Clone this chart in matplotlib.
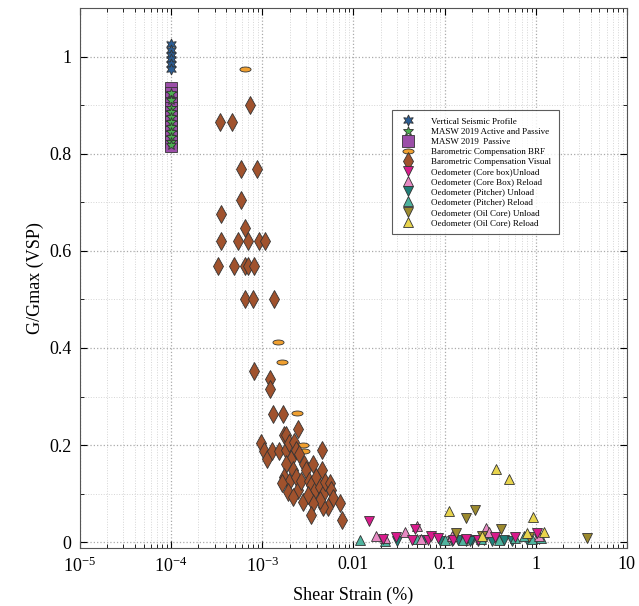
import numpy as np
import matplotlib
matplotlib.use("Agg")
import matplotlib.pyplot as plt
from matplotlib.path import Path
from matplotlib.ticker import LogLocator, FixedLocator, FixedFormatter, MultipleLocator

plt.rcParams['font.family'] = ['Liberation Serif', 'DejaVu Serif']
plt.rcParams['mathtext.fontset'] = 'custom'
plt.rcParams['mathtext.rm'] = 'Liberation Serif'
plt.rcParams['mathtext.it'] = 'Liberation Serif:italic'

# ---- data (shear strain in %, G/Gmax) ----
vsp_x = [1e-4] * 6
vsp_y = [1.025, 1.013, 1.003, 0.995, 0.985, 0.975]

masw_ap_x = [1e-4] * 11
masw_ap_y = [0.925, 0.91, 0.895, 0.885, 0.875, 0.865, 0.855, 0.845, 0.835, 0.825, 0.818]

masw_p_x = [1e-4] * 13
masw_p_y = [0.935, 0.925, 0.915, 0.905, 0.895, 0.885, 0.875, 0.865, 0.855, 0.845, 0.835, 0.825, 0.815]

brf_x = [6.5e-4, 1.5e-3, 1.66e-3, 2.39e-3, 2.78e-3, 2.9e-3]
brf_y = [0.975, 0.413, 0.372, 0.267, 0.201, 0.187]

vis_x = [7.36e-4, 3.41e-4, 4.64e-4, 5.85e-4, 8.8e-4, 5.85e-4, 3.5e-4, 6.5e-4,
         3.5e-4, 5.4e-4, 7.0e-4, 9.3e-4, 1.08e-3,
         3.3e-4, 4.9e-4, 6.5e-4, 7.0e-4, 8.1e-4,
         6.5e-4, 7.9e-4, 1.36e-3, 8.15e-4, 1.23e-3, 1.23e-3,
         1.33e-3, 1.67e-3, 2.45e-3, 1.75e-3,
         9.6e-4, 1.04e-3, 1.14e-3, 1.27e-3, 1.53e-3, 1.82e-3, 1.82e-3, 1.98e-3,
         2.25e-3, 2.07e-3, 2.35e-3, 2.56e-3, 2.9e-3, 1.82e-3, 1.74e-3, 1.98e-3,
         2.16e-3, 2.35e-3, 2.45e-3, 2.67e-3, 3.03e-3, 3.3e-3, 3.6e-3, 3.45e-3,
         3.75e-3, 3.92e-3, 4.27e-3, 4.64e-3, 4.56e-3, 4.56e-3, 4.84e-3, 5.5e-3,
         5.74e-3, 6.0e-3, 5.27e-3, 4.64e-3, 4.27e-3, 3.6e-3, 3.45e-3, 2.79e-3,
         7.1e-3, 7.55e-3, 1.64e-3, 1.9e-3, 2.16e-3, 3.16e-3]
vis_y = [0.901, 0.865, 0.865, 0.768, 0.768, 0.704, 0.676, 0.647,
         0.620, 0.620, 0.620, 0.620, 0.620,
         0.569, 0.569, 0.569, 0.569, 0.569,
         0.501, 0.501, 0.501, 0.353, 0.337, 0.316,
         0.265, 0.265, 0.234, 0.220,
         0.204, 0.188, 0.172, 0.188, 0.188, 0.220, 0.189, 0.204,
         0.206, 0.172, 0.189, 0.182, 0.162, 0.160, 0.134, 0.124,
         0.148, 0.134, 0.107, 0.127, 0.148, 0.127, 0.162, 0.117,
         0.107, 0.134, 0.114, 0.100, 0.189, 0.148, 0.124, 0.121,
         0.107, 0.090, 0.073, 0.073, 0.086, 0.080, 0.056, 0.083,
         0.080, 0.045, 0.121, 0.103, 0.093, 0.097]

cb_un_x = [0.0147, 0.0295, 0.0445, 0.0476, 0.066, 0.071, 0.084, 0.124, 0.174, 0.36, 0.6, 1.03, 0.021, 0.23]
cb_un_y = [0.044, 0.010, 0.004, 0.027, 0.004, 0.012, 0.008, 0.004, 0.006, 0.010, 0.010, 0.019, 0.006, 0.004]

cb_re_x = [0.0177, 0.0225, 0.0366, 0.0497, 0.286, 0.31, 0.121, 0.055, 1.1]
cb_re_y = [0.012, 0.008, 0.021, 0.033, 0.030, 0.021, 0.012, 0.006, 0.012]

pi_un_x = [0.03, 0.06, 0.09, 0.14, 0.17, 0.2, 0.23, 0.27, 0.33, 0.45, 0.55, 0.8, 1.1, 0.12, 0.19]
pi_un_y = [0.003, 0.005, 0.003, 0.004, 0.002, 0.005, 0.003, 0.004, 0.002, 0.005, 0.003, 0.004, 0.006, 0.002, 0.003]

pi_re_x = [0.0117, 0.022, 0.05, 0.1, 0.16, 0.25, 0.4, 0.6, 0.75, 0.9, 1.15]
pi_re_y = [0.004, 0.003, 0.006, 0.005, 0.004, 0.006, 0.005, 0.008, 0.012, 0.006, 0.009]

oil_un_x = [0.216, 0.174, 0.135, 0.416, 3.69, 0.26, 0.85]
oil_un_y = [0.067, 0.049, 0.019, 0.028, 0.008, 0.012, 0.010]

oil_re_x = [0.369, 0.506, 0.111, 0.94, 0.81, 1.24, 0.256]
oil_re_y = [0.150, 0.131, 0.064, 0.051, 0.018, 0.021, 0.012]

# ellipse marker for BRF
circ = Path.unit_circle()
ellipse = Path(circ.vertices * np.array([1.0, 0.45]), circ.codes)

fig = plt.figure(figsize=(6.39, 6.06), dpi=100)
ax = fig.add_axes([0.125, 0.0957, 0.856, 0.891])

ek = dict(linestyle='none', markeredgecolor='#333333', markeredgewidth=0.6)
ax.plot(vsp_x, vsp_y, marker=(6, 1, 0), ms=8, color='#2b5d94', label='Vertical Seismic Profile', **ek)
ax.plot(masw_p_x, masw_p_y, marker='s', ms=8, color='#9b4fa8', label='MASW 2019 Active and Passive_', **ek)
ax.plot(masw_ap_x, masw_ap_y, marker='*', ms=7, color='#4caf50', label='MASW 2019 Active and Passive', **ek)
ax.plot(brf_x, brf_y, marker=ellipse, ms=8, color='#f0a030', label='Barometric Compensation BRF', **ek)
ax.plot(vis_x, vis_y, marker='d', ms=9, color='#a0522d', label='Barometric Compensation Visual', **ek)
ax.plot(pi_un_x, pi_un_y, marker='v', ms=7, color='#1f7f78', label='Oedometer (Pitcher) Unload', **ek)
ax.plot(pi_re_x, pi_re_y, marker='^', ms=7, color='#4fb39e', label='Oedometer (Pitcher) Reload', **ek)
ax.plot(cb_re_x, cb_re_y, marker='^', ms=7, color='#e78ac3', label='Oedometer (Core Box) Reload', **ek)
ax.plot(cb_un_x, cb_un_y, marker='v', ms=7, color='#d81b8c', label='Oedometer (Core box)Unload', **ek)
ax.plot(oil_un_x, oil_un_y, marker='v', ms=7, color='#9c8a2e', label='Oedometer (Oil Core) Unload', **ek)
ax.plot(oil_re_x, oil_re_y, marker='^', ms=7, color='#e8d44d', label='Oedometer (Oil Core) Reload', **ek)

ax.set_xscale('log')
ax.set_xlim(1e-5, 10)
ax.set_ylim(-0.012, 1.1)

ax.xaxis.set_major_locator(FixedLocator([1e-5, 1e-4, 1e-3, 1e-2, 1e-1, 1, 10]))
ax.xaxis.set_major_formatter(FixedFormatter([r'$10^{-5}$', r'$10^{-4}$', r'$10^{-3}$', '0.01', '0.1', '1', '10']))
ax.xaxis.set_minor_locator(LogLocator(base=10, subs=np.arange(2, 10), numticks=20))
ax.yaxis.set_minor_locator(MultipleLocator(0.1))
ax.set_yticks([0, 0.2, 0.4, 0.6, 0.8, 1.0])
ax.set_yticklabels(['0', '0.2', '0.4', '0.6', '0.8', '1'])

ax.tick_params(which='both', direction='in', top=True, right=True, labelsize=13)
ax.tick_params(which='major', length=5, pad=6)
ax.tick_params(which='minor', length=3)
ax.grid(True, which='major', linestyle=':', color='#aaaaaa', linewidth=0.9)
ax.grid(True, which='minor', linestyle=':', color='#d5d5d5', linewidth=0.7)
ax.set_axisbelow(True)
for s in ax.spines.values():
    s.set_color('#555555')

ax.set_xlabel('Shear Strain (%)', fontsize=13, labelpad=8)
ax.set_ylabel('G/Gmax (VSP)', fontsize=13)

# legend in the original order
h, l = ax.get_legend_handles_labels()
idx = {lab: i for i, lab in enumerate(l)}
order = ['Vertical Seismic Profile', 'MASW 2019 Active and Passive', 'MASW 2019 Active and Passive_',
         'Barometric Compensation BRF', 'Barometric Compensation Visual',
         'Oedometer (Core box)Unload', 'Oedometer (Core Box) Reload',
         'Oedometer (Pitcher) Unload', 'Oedometer (Pitcher) Reload',
         'Oedometer (Oil Core) Unload', 'Oedometer (Oil Core) Reload']
handles = [h[idx[o]] for o in order]
labels = [o if o != 'MASW 2019 Active and Passive_' else 'MASW 2019  Passive' for o in order]
leg = ax.legend(handles, labels, loc='upper left', bbox_to_anchor=(0.57, 0.811), fontsize=6.5,
                frameon=True, fancybox=False, edgecolor='#333333', markerscale=1.0,
                handletextpad=1.6, labelspacing=0.2, borderpad=0.8, borderaxespad=0)
leg.get_frame().set_linewidth(0.8)

fig.savefig('out.png', dpi=100)
